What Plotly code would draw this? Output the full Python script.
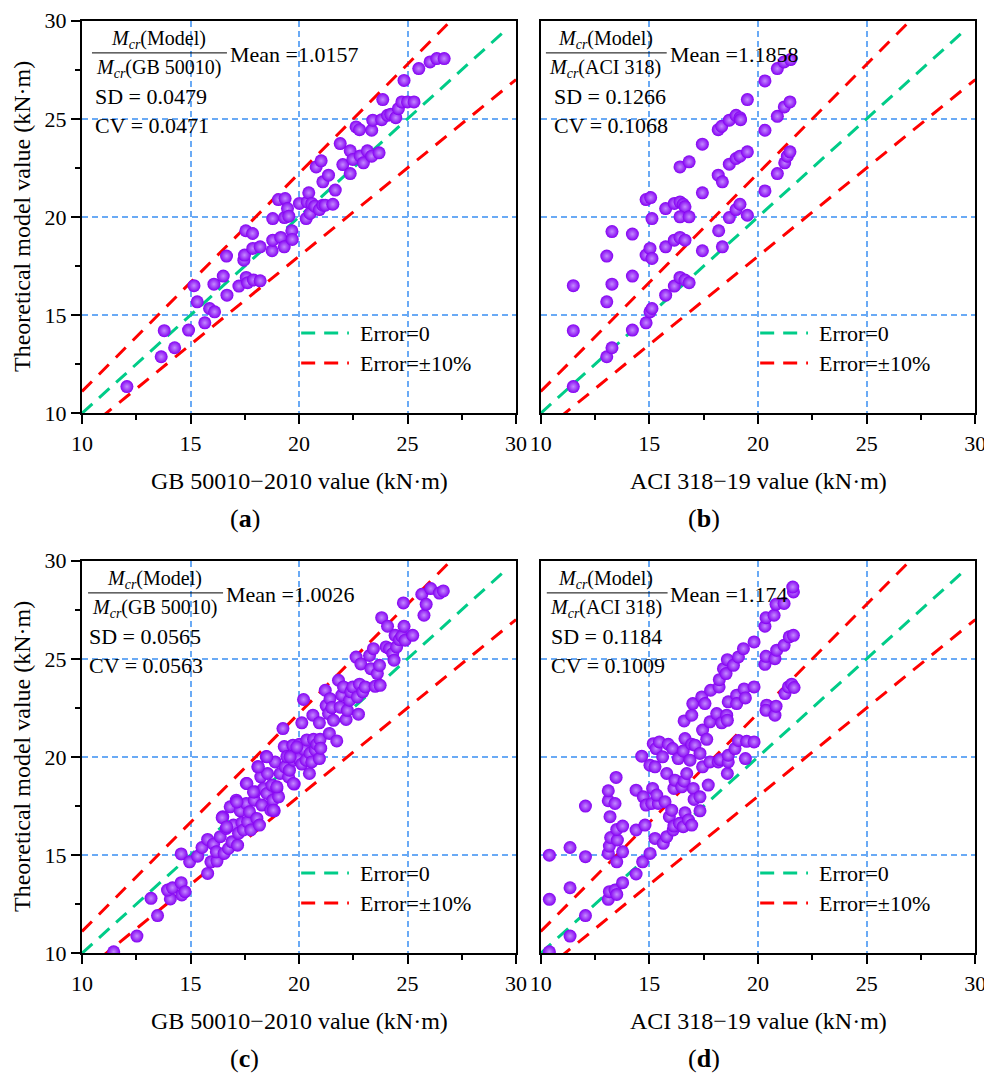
import plotly.graph_objects as go

# ---- data (kN·m): (code value, model value) ----
a_pts = [(12.07, 11.36), (13.65, 12.88), (13.79, 14.21), (14.27, 13.34), (14.91, 14.24),
         (15.16, 16.50), (15.31, 15.68), (15.66, 14.61), (15.88, 15.34), (16.11, 15.17),
         (16.08, 16.58), (16.51, 16.99), (16.66, 18.01), (16.68, 16.02), (17.23, 16.48),
         (17.46, 17.80), (17.49, 18.06), (17.55, 19.30), (17.86, 19.16), (17.57, 16.92),
         (17.63, 16.65), (17.87, 18.40), (17.90, 16.79), (18.21, 18.48), (18.21, 16.75),
         (18.76, 18.28), (18.79, 18.82), (18.79, 19.92), (19.05, 20.89), (19.16, 18.96),
         (19.32, 18.48), (19.36, 20.94), (19.33, 19.97), (19.47, 20.43), (19.53, 20.04),
         (19.67, 19.30), (19.69, 18.86), (20.02, 20.69), (20.33, 19.92), (20.38, 20.77),
         (20.45, 21.23), (20.51, 20.18), (20.59, 20.69), (20.73, 20.55), (20.94, 20.38),
         (21.10, 20.60), (21.21, 20.60), (21.56, 20.65), (21.67, 21.37), (20.79, 22.55),
         (21.02, 22.86), (21.10, 21.79), (21.36, 22.13), (21.90, 23.74), (22.02, 22.67),
         (22.36, 22.21), (22.36, 23.37), (22.48, 22.93), (22.63, 24.59), (22.79, 24.45),
         (22.82, 23.11), (22.97, 22.76), (23.15, 23.37), (23.35, 23.10), (23.35, 24.42),
         (23.40, 24.93), (23.69, 23.27), (23.81, 24.96), (23.86, 25.98), (24.08, 25.18),
         (24.23, 25.23), (24.46, 25.06), (24.58, 25.52), (24.74, 25.86), (24.84, 26.96),
         (25.00, 25.86), (25.30, 25.86), (25.52, 27.56), (26.04, 27.90), (26.35, 28.07),
         (26.69, 28.07)]

b_pts = [(11.50, 11.36), (11.50, 14.21), (11.50, 16.50), (13.04, 12.88), (13.28, 13.34),
         (13.04, 15.68), (13.28, 16.58), (13.04, 18.01), (13.28, 19.26), (14.22, 14.24),
         (14.22, 16.99), (14.22, 19.13), (14.85, 14.61), (15.03, 15.17), (15.12, 15.34),
         (14.85, 18.06), (15.03, 18.40), (15.12, 17.89), (14.85, 20.89), (15.06, 20.99),
         (15.12, 19.92), (15.75, 16.02), (15.75, 18.48), (15.75, 20.43), (16.15, 16.48),
         (16.41, 16.92), (16.64, 16.79), (16.83, 16.65), (16.15, 18.82), (16.41, 18.96),
         (16.64, 18.82), (16.15, 20.69), (16.41, 20.77), (16.56, 20.65), (16.64, 20.52),
         (16.41, 20.01), (16.83, 20.01), (16.41, 22.55), (16.83, 22.81), (17.44, 18.28),
         (17.44, 21.23), (17.44, 23.71), (18.19, 19.30), (18.36, 18.48), (18.17, 22.13),
         (18.36, 21.79), (18.17, 24.45), (18.33, 24.62), (18.68, 24.93), (18.99, 25.18),
         (19.17, 25.06), (19.20, 24.96), (18.68, 19.97), (18.99, 20.38), (19.17, 20.65),
         (19.51, 20.09), (18.68, 22.69), (18.99, 22.98), (19.17, 23.10), (19.51, 23.32),
         (19.51, 25.98), (20.32, 21.33), (20.32, 24.42), (20.32, 26.93), (20.89, 22.21),
         (21.23, 22.76), (21.35, 23.10), (21.47, 23.32), (20.89, 25.13), (21.21, 25.61),
         (21.47, 25.86), (20.89, 27.56), (21.20, 27.90), (21.50, 28.02)]

c_pts = [(11.46, 10.08), (12.53, 10.88), (13.48, 11.92), (13.18, 12.80), (14.07, 12.77),
         (13.94, 13.22), (14.17, 13.34), (14.57, 13.60), (14.60, 12.97), (14.75, 13.14),
         (14.57, 15.06), (14.96, 14.66), (15.33, 14.95), (15.53, 15.39), (15.79, 15.80),
         (15.79, 14.07), (15.94, 14.66), (16.22, 14.70), (16.06, 15.56), (16.19, 15.17),
         (16.37, 15.94), (16.49, 16.96), (16.55, 15.09), (16.65, 16.36), (16.75, 15.34),
         (16.83, 17.46), (16.91, 15.68), (16.98, 16.53), (17.11, 17.80), (17.17, 15.51),
         (17.21, 16.11), (17.29, 17.26), (17.37, 16.65), (17.44, 16.28), (17.57, 18.65),
         (17.57, 17.63), (17.63, 16.70), (17.72, 17.21), (17.78, 16.28), (17.94, 17.80),
         (17.98, 18.23), (18.06, 16.87), (18.10, 19.50), (18.18, 16.53), (18.24, 18.99),
         (18.29, 17.55), (18.37, 18.40), (18.49, 20.02), (18.52, 18.14), (18.55, 19.16),
         (18.70, 17.29), (18.75, 18.57), (18.80, 17.80), (18.86, 17.26), (18.90, 19.75),
         (18.98, 18.40), (19.06, 17.97), (19.13, 19.16), (19.26, 21.45), (19.32, 20.53),
         (19.36, 19.50), (19.44, 20.02), (19.52, 18.99), (19.56, 19.33), (19.72, 20.60),
         (19.75, 19.84), (19.78, 18.62), (19.87, 20.19), (19.98, 19.92), (20.02, 20.65),
         (20.13, 21.74), (20.13, 19.64), (20.21, 22.93), (20.24, 20.39), (20.33, 19.84),
         (20.36, 20.87), (20.48, 19.16), (20.51, 20.19), (20.59, 19.75), (20.64, 22.13),
         (20.67, 20.90), (20.75, 20.36), (20.82, 20.65), (20.94, 21.74), (20.94, 19.92),
         (20.97, 20.90), (21.00, 20.45), (21.21, 23.40), (21.25, 22.62), (21.36, 22.21),
         (21.40, 21.20), (21.43, 22.97), (21.51, 22.52), (21.59, 21.87), (21.74, 20.82),
         (21.82, 23.91), (21.90, 22.54), (21.97, 23.15), (22.05, 23.57), (22.17, 21.91),
         (22.23, 22.38), (22.33, 22.89), (22.39, 23.32), (22.48, 23.57), (22.63, 25.09),
         (22.69, 23.06), (22.74, 22.18), (22.79, 23.71), (22.85, 24.74), (22.94, 23.32),
         (23.05, 23.57), (23.25, 25.17), (23.31, 24.50), (23.43, 25.52), (23.51, 23.60),
         (23.61, 24.25), (23.71, 24.67), (23.74, 23.65), (23.81, 27.10), (24.01, 25.61),
         (24.08, 26.66), (24.17, 25.52), (24.32, 25.27), (24.38, 24.93), (24.43, 26.20),
         (24.50, 25.61), (24.63, 25.98), (24.74, 26.15), (24.81, 27.85), (24.84, 26.66),
         (24.89, 25.95), (25.24, 26.20), (25.66, 28.29), (25.76, 27.22), (25.86, 27.78),
         (26.07, 28.58), (26.47, 28.35), (26.65, 28.46), (16.46, 16.91), (16.67, 16.44),
         (17.14, 17.71), (17.60, 18.65), (17.90, 18.22), (18.13, 19.50), (18.52, 20.01),
         (18.98, 18.48), (18.82, 17.29), (19.59, 20.01), (19.90, 20.51), (19.74, 18.65)]

d_pts = [(10.40, 10.08), (10.40, 12.75), (10.40, 15.00), (11.35, 10.88), (11.35, 13.34),
         (11.35, 15.39), (12.06, 11.92), (12.06, 14.92), (12.06, 17.50), (13.11, 12.75),
         (13.16, 13.14), (13.42, 13.22), (13.50, 13.00), (13.77, 13.60), (13.11, 15.09),
         (13.16, 15.46), (13.22, 15.90), (13.50, 14.66), (13.53, 15.77), (13.77, 15.17),
         (13.50, 16.31), (13.77, 16.48), (13.19, 16.96), (13.11, 17.77), (13.11, 18.28),
         (13.42, 17.63), (13.47, 18.96), (14.39, 14.04), (14.39, 18.31), (14.39, 16.28),
         (14.69, 14.66), (14.80, 16.53), (14.72, 17.97), (14.65, 20.04), (14.85, 17.55),
         (15.03, 15.09), (15.11, 17.63), (15.18, 20.68), (15.26, 15.85), (15.31, 20.43),
         (15.41, 17.63), (15.46, 20.77), (15.03, 19.58), (15.26, 19.50), (15.15, 18.40),
         (15.34, 18.06), (15.64, 15.60), (15.61, 20.01), (15.72, 17.72), (15.80, 15.94),
         (15.80, 19.16), (15.87, 20.65), (15.92, 16.96), (16.03, 17.29), (16.07, 20.43),
         (16.10, 16.28), (16.13, 18.40), (16.13, 16.48), (16.18, 18.82), (16.33, 19.92),
         (16.39, 16.62), (16.49, 18.48), (16.56, 20.31), (16.56, 16.45), (16.60, 18.77),
         (16.64, 20.94), (16.64, 17.16), (16.72, 19.16), (16.80, 16.79), (16.87, 19.84),
         (16.95, 16.53), (16.95, 20.65), (17.02, 18.40), (17.06, 17.84), (16.60, 21.84),
         (16.95, 22.13), (17.00, 22.72), (17.10, 20.60), (17.33, 20.18), (17.33, 17.97),
         (17.33, 17.26), (17.41, 23.06), (17.45, 19.50), (17.45, 21.37), (17.56, 22.72),
         (17.64, 20.90), (17.71, 18.57), (17.79, 21.79), (17.82, 23.40), (17.79, 19.75),
         (18.10, 22.21), (18.17, 19.75), (18.21, 23.57), (18.22, 23.94), (18.25, 19.87),
         (18.33, 21.74), (18.41, 24.50), (18.53, 24.25), (18.56, 22.13), (18.59, 24.96),
         (18.59, 21.87), (18.59, 19.16), (18.63, 19.75), (18.63, 20.09), (18.63, 22.81),
         (18.87, 24.67), (18.94, 20.43), (19.02, 23.15), (19.02, 22.72), (19.10, 25.10),
         (19.10, 20.84), (19.33, 25.52), (19.36, 23.47), (19.42, 23.01), (19.42, 19.92),
         (19.48, 20.80), (19.82, 23.57), (19.82, 25.86), (19.82, 20.77), (20.32, 26.66),
         (20.32, 24.72), (20.37, 25.13), (20.37, 27.10), (20.40, 22.64), (20.37, 22.38),
         (20.74, 27.22), (20.78, 22.13), (20.78, 25.01), (20.83, 22.59), (20.83, 27.78),
         (20.86, 25.44), (21.20, 27.82), (21.20, 25.69), (21.24, 23.23), (21.40, 23.57),
         (21.44, 26.12), (21.63, 26.20), (21.63, 28.41), (21.60, 28.66), (21.55, 23.71),
         (21.66, 23.54)]

codes = ['GB 50010', 'ACI 318', 'GB 50010', 'ACI 318']
means = ['1.0157', '1.1858', '1.0026', '1.174']
sds = ['0.0479', '0.1266', '0.0565', '0.1184']
cvs = ['0.0471', '0.1068', '0.0563', '0.1009']
x_titles = ['GB 50010−2010 value (kN·m)', 'ACI 318−19 value (kN·m)',
            'GB 50010−2010 value (kN·m)', 'ACI 318−19 value (kN·m)']
panel_tags = ['a', 'b', 'c', 'd']
y_title = 'Theoretical model value (kN·m)'

# reference lines
line_x = [10, 30]
zero_x = [10, 29.6]
err = 0.10

FONT = 'Liberation Serif'
PURPLE = '#8400f2'
GREEN = '#00cc88'
RED = '#ff0000'
GRID = '#6aaaf5'

# the page body adds an 8px margin, so the figure is sized to fit behind it
OFF = 8
W, H = 992 - OFF, 1087 - OFF


def px_x(v):
    return (v - OFF) / W


def px_y(v):
    return 1 - (v - OFF) / H


fig = go.Figure()

x_dom = [[px_x(82), px_x(516)], [px_x(540.7), px_x(975.3)]] * 2
y_dom = [[px_y(413.3), px_y(20.7)]] * 2 + [[px_y(953.3), px_y(560.7)]] * 2
# fraction line left/right and text x positions (axis-domain fractions)
frac_pos = [(0.023, 0.334, 0.025), (0.012, 0.290, 0.027),
            (0.014, 0.325, 0.012), (0.014, 0.292, 0.018)]

all_pts = [a_pts, b_pts, c_pts, d_pts]
shapes = []
annotations = []

for p in range(4):
    n = '' if p == 0 else str(p + 1)
    xr, yr = 'x' + n, 'y' + n
    xs = [q[0] for q in all_pts[p]]
    ys = [q[1] for q in all_pts[p]]

    fig.add_trace(go.Scatter(x=zero_x, y=zero_x, mode='lines', xaxis=xr, yaxis=yr,
                             line=dict(color=GREEN, width=3, dash='14px,9px'),
                             showlegend=False, hoverinfo='skip'))
    fig.add_trace(go.Scatter(x=line_x, y=[v / (1 - err) for v in line_x], mode='lines',
                             xaxis=xr, yaxis=yr,
                             line=dict(color=RED, width=3, dash='14px,10px'),
                             showlegend=False, hoverinfo='skip'))
    fig.add_trace(go.Scatter(x=line_x, y=[v * (1 - err) for v in line_x], mode='lines',
                             xaxis=xr, yaxis=yr,
                             line=dict(color=RED, width=3, dash='14px,10px'),
                             showlegend=False, hoverinfo='skip'))
    fig.add_trace(go.Scatter(x=xs, y=ys, mode='markers', xaxis=xr, yaxis=yr,
                             marker=dict(size=13, color=PURPLE, line=dict(width=0),
                                         gradient=dict(type='radial', color='#c48aff')),
                             showlegend=False))

    left_panel = p % 2 == 0
    ax = dict(range=[10, 30], tick0=10, dtick=5, showline=True, linecolor='black',
              linewidth=2, mirror=True, ticks='outside', ticklen=9, tickwidth=2,
              tickcolor='black', showgrid=True, gridcolor=GRID, griddash='6px,4px',
              gridwidth=1.5, zeroline=False, automargin=False,
              tickfont=dict(family=FONT, size=22, color='black'),
              minor=dict(ticks='outside', ticklen=5, tickwidth=2, tick0=10, dtick=2.5,
                         tickcolor='black', showgrid=False))
    xax = dict(ax, domain=x_dom[p], anchor=yr)
    yax = dict(ax, domain=y_dom[p], anchor=xr)
    if not left_panel:
        yax.update(showticklabels=False, ticks='',
                   minor=dict(ticks='', showgrid=False))
    fig.update_layout(**{'xaxis' + n: xax, 'yaxis' + n: yax})

    dx = xr + ' domain'
    dy = yr + ' domain'
    fl, fr, tx = frac_pos[p]
    fc = (fl + fr) / 2 - 0.003
    tf = dict(family=FONT, size=20, color='black')
    big = dict(family=FONT, size=22, color='black')
    shapes.append(dict(type='line', xref=dx, yref=dy, x0=fl, x1=fr, y0=0.918, y1=0.918,
                       line=dict(color='black', width=1)))
    annotations += [
        dict(xref=dx, yref=dy, x=fc, y=0.953, text='<i>M</i><sub><i>cr</i></sub>(Model)',
             showarrow=False, font=tf, xanchor='center', yanchor='middle'),
        dict(xref=dx, yref=dy, x=fc, y=0.877,
             text='<i>M</i><sub><i>cr</i></sub>(' + codes[p] + ')',
             showarrow=False, font=tf, xanchor='center', yanchor='middle'),
        dict(xref=dx, yref=dy, x=fr + 0.002, y=0.914, text='Mean =' + means[p],
             showarrow=False, font=big, xanchor='left', yanchor='middle'),
        dict(xref=dx, yref=dy, x=tx, y=0.806, text='SD = ' + sds[p], showarrow=False,
             font=big, xanchor='left', yanchor='middle'),
        dict(xref=dx, yref=dy, x=tx, y=0.734, text='CV = ' + cvs[p], showarrow=False,
             font=big, xanchor='left', yanchor='middle'),
    ]

    # legend drawn inside each panel
    for yy, col, lab in [(0.2045, GREEN, 'Error=0'), (0.128, RED, 'Error=±10%')]:
        shapes.append(dict(type='line', xref=dx, yref=dy, x0=0.505, x1=0.615, y0=yy, y1=yy,
                           line=dict(color=col, width=3, dash='14px,9px')))
        annotations.append(dict(xref=dx, yref=dy, x=0.635, y=yy, text=lab, showarrow=False,
                                font=big, xanchor='left', yanchor='middle'))

    # axis titles and panel tags
    xc = (x_dom[p][0] + x_dom[p][1]) / 2
    row_shift = 0 if p < 2 else 540
    annotations.append(dict(xref='paper', yref='paper', x=xc, y=px_y(481 + row_shift),
                            text=x_titles[p], showarrow=False,
                            font=dict(family=FONT, size=24, color='black'),
                            xanchor='center', yanchor='middle'))
    annotations.append(dict(xref='paper', yref='paper', x=xc - 0.055,
                            y=px_y(518 + row_shift),
                            text='(<b>' + panel_tags[p] + '</b>)', showarrow=False,
                            font=dict(family=FONT, size=26, color='black'),
                            xanchor='center', yanchor='middle'))
    if left_panel:
        annotations.append(dict(xref='paper', yref='paper', x=px_x(22),
                                y=(y_dom[p][0] + y_dom[p][1]) / 2, text=y_title,
                                textangle=-90, showarrow=False,
                                font=dict(family=FONT, size=24, color='black'),
                                xanchor='center', yanchor='middle'))

fig.update_layout(width=W, height=H, margin=dict(l=0, r=0, t=0, b=0),
                  paper_bgcolor='white', plot_bgcolor='white',
                  shapes=shapes, annotations=annotations, showlegend=False)

fig.write_html('out.html')
